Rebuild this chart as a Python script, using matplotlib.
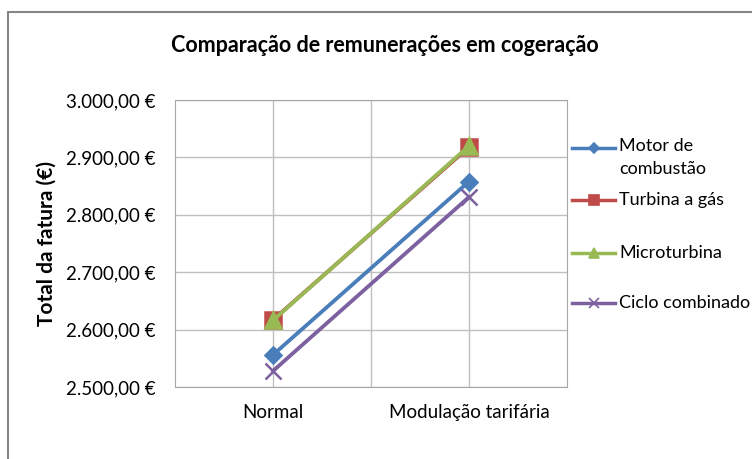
import matplotlib.pyplot as plt
from matplotlib.lines import Line2D
from matplotlib.ticker import FuncFormatter

categories = ["Normal", "Modulação tarifária"]
series_names = ["Motor de\ncombustão", "Turbina a gás", "Microturbina", "Ciclo combinado"]
motor = [2556, 2858]
turbina = [2617, 2918]
micro = [2616, 2920]
ciclo = [2528, 2831]
y_ticks = [2500, 2600, 2700, 2800, 2900, 3000]

colors = ["#4A7EBB", "#BE4B48", "#98B954", "#7D60A0"]
markers = ["D", "s", "^", "x"]
msizes = [8, 11.5, 11.5, 11.5]
leg_msizes = [5, 7, 7.5, 7]

plt.rcParams["font.family"] = ["Lato", "DejaVu Sans"]

W, H = 752, 459
fig = plt.figure(figsize=(W / 100, H / 100), dpi=100)
ax = fig.add_axes([175 / W, 1 - 387 / H, 392 / W, 287 / H])

x = list(range(len(categories)))
for vals, c, m, ms in zip([motor, turbina, micro, ciclo], colors, markers, msizes):
    ax.plot(x, vals, color=c, lw=2.75, marker=m, markersize=ms, mew=1.8,
            solid_capstyle="round")

ax.set_xlim(-0.5, 1.5)
ax.set_ylim(2500, 3000)
ax.set_yticks(y_ticks)
ax.yaxis.set_major_formatter(FuncFormatter(
    lambda v, p: "{:,.2f} €".format(v).replace(",", "X").replace(".", ",").replace("X", ".")))
ax.set_xticks(x)
ax.set_xticklabels(categories)
ax.set_xticks([0.5], minor=True)
ax.grid(True, which="both", color="#BFBFBF", lw=1)
ax.set_axisbelow(True)
ax.tick_params(length=0, labelsize=13.5, colors="#000000")
ax.tick_params(axis="x", pad=12)
ax.tick_params(axis="y", pad=14)
ax.tick_params(which="minor", length=0)
for s in ax.spines.values():
    s.set_color("#A6A6A6")

ax.set_ylabel("Total da fatura (€)", fontsize=15, fontweight="bold", labelpad=7)
fig.text(385 / W, 1 - 45 / H, "Comparação de remunerações em cogeração", ha="center", va="center",
         fontsize=15.5, fontweight="bold")

# legend, drawn beside the plot like Excel does
rows = [148, 200, 253, 303]
for name, c, m, ms, row in zip(series_names, colors, markers, leg_msizes, rows):
    yf = 1 - row / H
    fig.add_artist(Line2D([572 / W, 615 / W], [yf, yf], transform=fig.transFigure,
                          color=c, lw=2.5))
    fig.add_artist(Line2D([593.5 / W], [yf], transform=fig.transFigure, color=c,
                          marker=m, markersize=ms, mew=1.2, lw=0))
    if "\n" in name:
        fig.text(619 / W, 1 - (row - 10) / H, name, ha="left", va="top", fontsize=13,
                 linespacing=1.5)
    else:
        fig.text(619 / W, yf, name, ha="left", va="center", fontsize=13)

# outer chart border
border = plt.Rectangle((8 / W, -0.05), 1.2, 1.05 - 12 / H, transform=fig.transFigure,
                       fill=False, edgecolor="#868686", lw=1.5)
fig.add_artist(border)

fig.savefig("out.png", dpi=100)
